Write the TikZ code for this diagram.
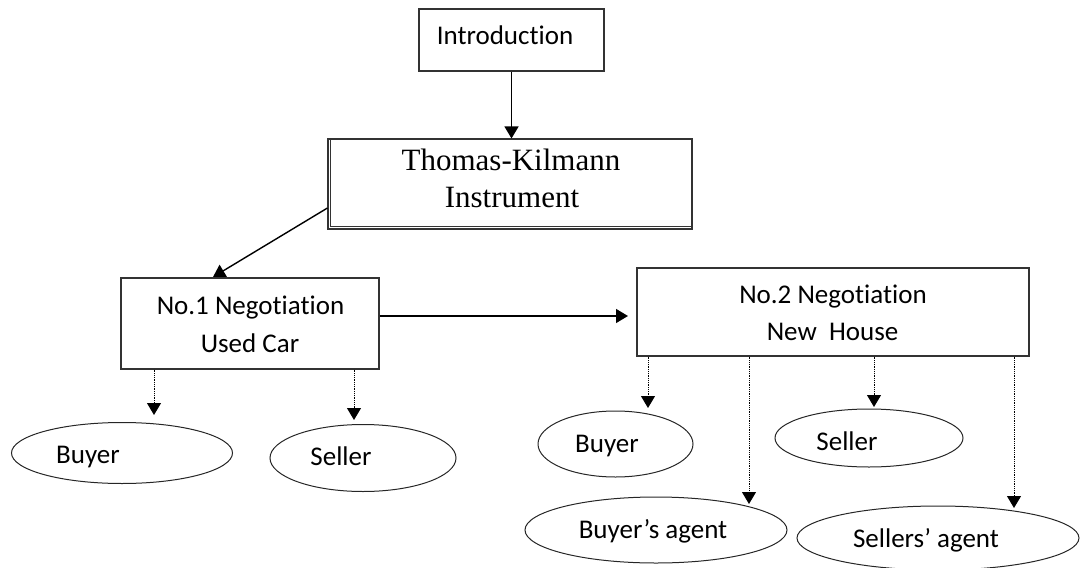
\documentclass[tikz,border=0pt]{standalone}
\usepackage{fontspec}
\setmainfont{Carlito}[Ligatures=NoCommon]
\newfontfamily\serifname{Liberation Serif}
\usetikzlibrary{arrows.meta,shapes.geometric}
\begin{document}
\begin{tikzpicture}[x=1pt,y=-1pt,
  box/.style={draw=black!80,line width=1.1pt,inner sep=0pt},
  oval/.style={draw=black!85,ellipse,line width=1pt,inner sep=0pt},
  lbl/.style={font=\fontsize{27}{32}\selectfont,text=black,inner sep=0pt,anchor=base},
  biglbl/.style={font=\serifname\fontsize{31}{37}\selectfont,inner sep=0pt,anchor=base},
  tip/.style={-{Triangle[width=14pt,length=12pt]}},
  link/.style={tip,line width=1.4pt},
  dotlink/.style={tip,line width=1pt,dash pattern=on 1pt off 0.8pt}
]
\useasboundingbox (0,0) rectangle (1080,568);

% boxes
\node[box,minimum width=185pt,minimum height=62pt] (intro) at (511.5,40) {};
\node[box,minimum width=364pt,minimum height=90pt] (tki) at (510,184) {};
\draw[black!80,line width=1.1pt] ([xshift=3pt]tki.north west) -- ([xshift=3pt,yshift=3pt]tki.south west) -- ([yshift=3pt]tki.south east);
\node[box,minimum width=258pt,minimum height=91pt] (neg1) at (250,323.5) {};
\node[box,minimum width=392pt,minimum height=88pt] (neg2) at (833,312) {};

% box labels
\node[lbl] (introtxt) at (505,44) {Introduction};
\node[biglbl] (tkitxt1) at (511,170) {Thomas-Kilmann};
\node[biglbl] (tkitxt2) at (512,207) {Instrument};
\node[lbl] (neg1txt1) at (250.5,314) {No.1 Negotiation};
\node[lbl] (neg1txt2) at (250,352) {Used Car};
\node[lbl] (neg2txt1) at (833,303) {No.2 Negotiation};
\node[lbl] (neg2txt2) at (832.5,340) {New\ \ House};

% ellipses
\node[oval,minimum width=221pt,minimum height=61pt] (buyer1) at (122,453) {};
\node[oval,minimum width=186pt,minimum height=67pt] (seller1) at (363,458) {};
\node[oval,minimum width=155pt,minimum height=66pt] (buyer2) at (615.5,444) {};
\node[oval,minimum width=188pt,minimum height=58pt] (seller2) at (869,438) {};
\node[oval,minimum width=262pt,minimum height=66pt] (bagent) at (656,530) {};
\node[oval,minimum width=282pt,minimum height=64pt] (sagent) at (938,538) {};

% ellipse labels
\node[lbl] (buyer1txt) at (88,463) {Buyer};
\node[lbl] (seller1txt) at (341,465) {Seller};
\node[lbl] (buyer2txt) at (607,452) {Buyer};
\node[lbl] (seller2txt) at (847,450) {Seller};
\node[lbl] (bagenttxt) at (653,538) {Buyer’s agent};
\node[lbl] (sagenttxt) at (926,547) {Sellers’ agent};

% arrow end points
\coordinate (tkiout) at ([yshift=-24pt]tki.west);
\coordinate (neg1in) at (213,277);
\coordinate (h1) at ([yshift=7.5pt]neg1.east);
\coordinate (h2) at (628,316);
\coordinate (tb1) at (154,415);
\coordinate (ts1) at (354,420);
\coordinate (tb2) at (648,408);
\coordinate (tba) at (749,504);
\coordinate (ts2) at (874,407);
\coordinate (tsa) at (1014,508);

% solid connectors
\draw[link] (intro.south) -- (intro.south |- tki.north);
\draw[link] (tkiout) -- (neg1in);
\draw[link] (h1) -- (h2);

% dotted connectors
\draw[dotlink] (tb1 |- neg1.south) -- (tb1);
\draw[dotlink] (ts1 |- neg1.south) -- (ts1);
\draw[dotlink] (tb2 |- neg2.south) -- (tb2);
\draw[dotlink] (tba |- neg2.south) -- (tba);
\draw[dotlink] (ts2 |- neg2.south) -- (ts2);
\draw[dotlink] (tsa |- neg2.south) -- (tsa);
\end{tikzpicture}
\end{document}
